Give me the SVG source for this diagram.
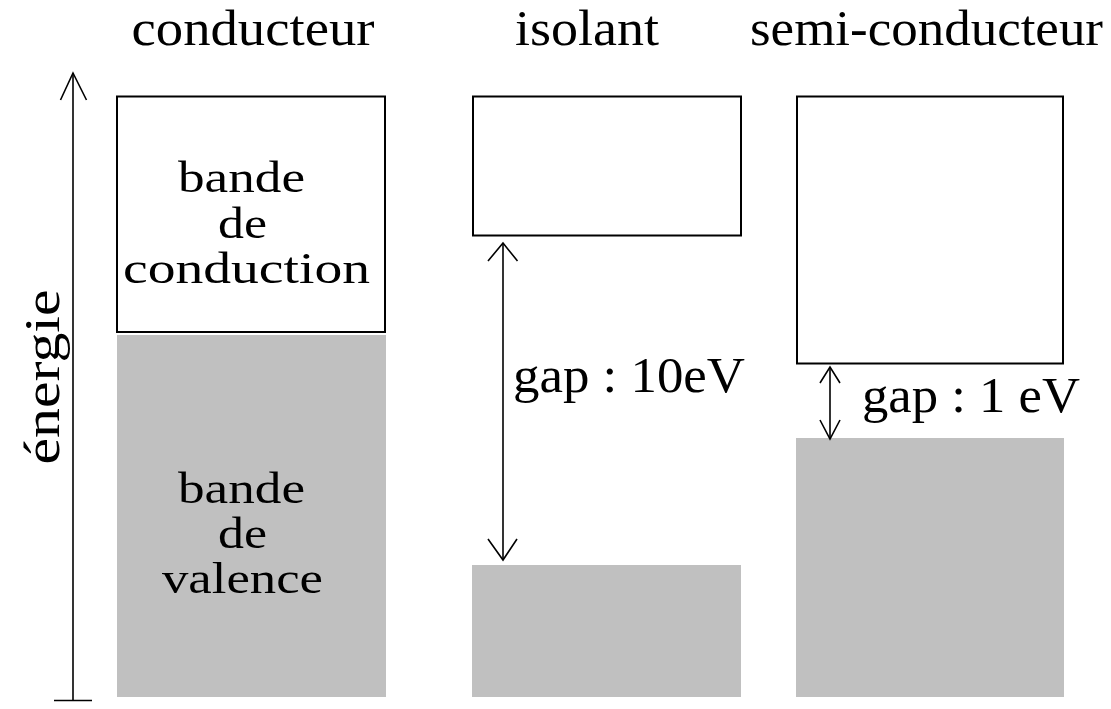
<svg xmlns="http://www.w3.org/2000/svg" width="1111" height="709" viewBox="0 0 1111 709">
<style>
text{font-family:"Liberation Serif","Times New Roman",serif;font-size:50px;fill:#000}
.lbl{font-size:45px}
.box{fill:#fff;stroke:#000;stroke-width:2}
.band{fill:#c0c0c0;stroke:none}
.ln{stroke:#000;stroke-width:1.6;fill:none}
</style>
<rect width="1111" height="709" fill="#fff"/>
<g id="titles">
<text x="131.5" y="45" textLength="243" lengthAdjust="spacingAndGlyphs">conducteur</text>
<text x="515" y="45" textLength="144" lengthAdjust="spacingAndGlyphs">isolant</text>
<text x="750" y="45" textLength="353" lengthAdjust="spacingAndGlyphs">semi-conducteur</text>
</g>
<g id="axis">
<line class="ln" x1="73" y1="73" x2="73" y2="700"/>
<line class="ln" x1="54" y1="700.5" x2="92" y2="700.5" stroke-width="2"/>
<polyline class="ln" points="60.5,100 73,73 86.5,100"/>
<text transform="translate(59,377) rotate(-90)" text-anchor="middle" textLength="175" lengthAdjust="spacingAndGlyphs">énergie</text>
</g>
<g id="conducteur">
<rect class="band" x="117" y="335" width="269" height="362"/>
<rect class="box" x="117" y="96.5" width="268" height="235.5"/>
<text class="lbl" x="178" y="192" textLength="127" lengthAdjust="spacingAndGlyphs">bande</text>
<text class="lbl" x="218" y="238" textLength="49" lengthAdjust="spacingAndGlyphs">de</text>
<text class="lbl" x="123" y="283" textLength="247" lengthAdjust="spacingAndGlyphs">conduction</text>
<text class="lbl" x="178" y="503" textLength="127" lengthAdjust="spacingAndGlyphs">bande</text>
<text class="lbl" x="218" y="548" textLength="49" lengthAdjust="spacingAndGlyphs">de</text>
<text class="lbl" x="162" y="593" textLength="161" lengthAdjust="spacingAndGlyphs">valence</text>
</g>
<g id="isolant">
<rect class="box" x="473" y="96.5" width="268" height="139"/>
<rect class="band" x="472" y="565" width="269" height="132"/>
</g>
<g id="semi-conducteur">
<rect class="box" x="797" y="96.5" width="266" height="267"/>
<rect class="band" x="796" y="438" width="268" height="259"/>
</g>
<g id="connectors">
<line class="ln" x1="503" y1="243" x2="503" y2="560"/>
<polyline class="ln" points="488,261 503,243 517.5,261"/>
<polyline class="ln" points="488,539 503,560 517,539"/>
<text x="513" y="392" textLength="232" lengthAdjust="spacingAndGlyphs">gap : 10eV</text>
<line class="ln" x1="830" y1="367" x2="830" y2="439"/>
<polyline class="ln" points="820,383 830,367 840,383"/>
<polyline class="ln" points="820,420 830,439 840,420"/>
<text x="862" y="412" textLength="218" lengthAdjust="spacingAndGlyphs">gap : 1 eV</text>
</g>
</svg>
